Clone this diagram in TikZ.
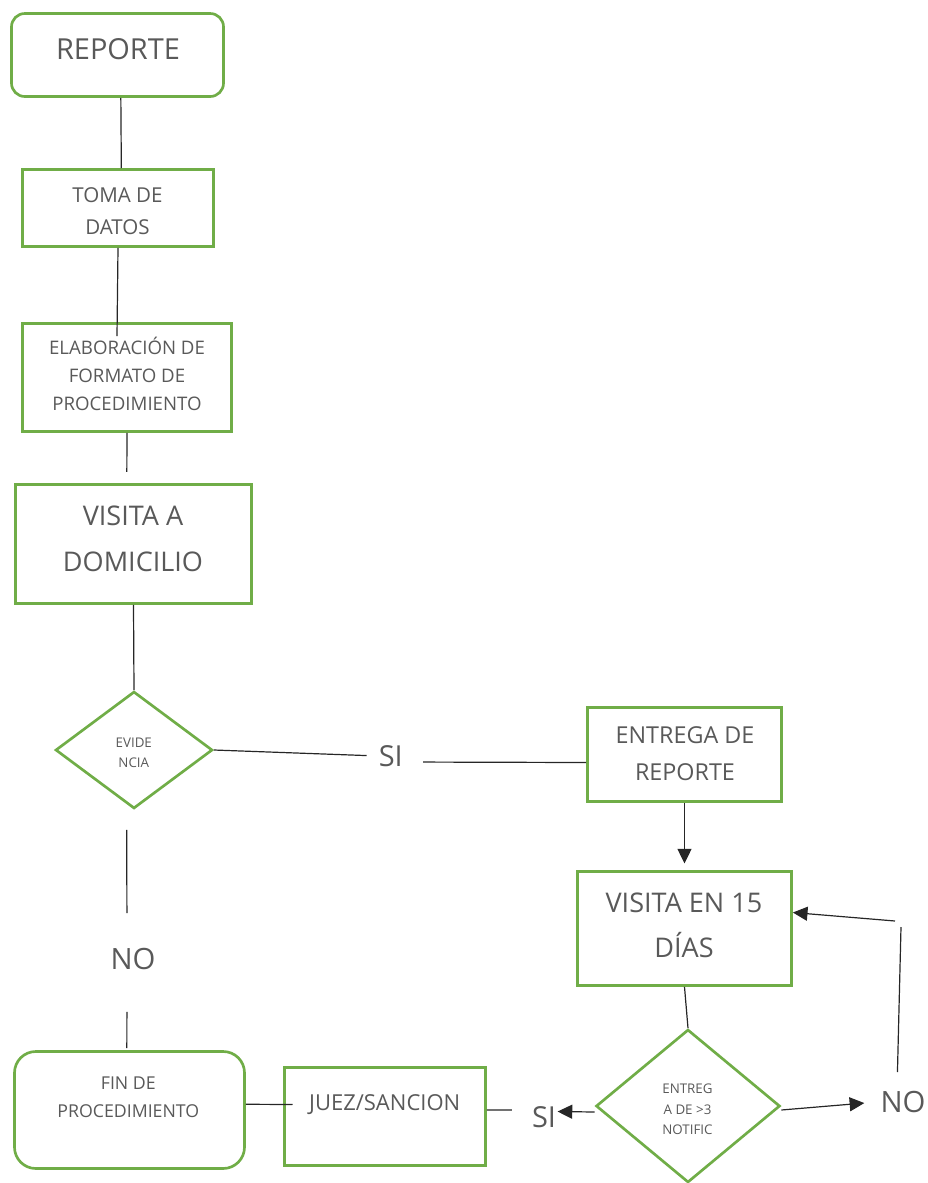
\documentclass[tikz,border=0pt]{standalone}
\usepackage{fontspec}
\setmainfont{Open Sans}
\usetikzlibrary{shapes.geometric,arrows.meta}

\definecolor{boxgreen}{HTML}{70AD47}
\definecolor{txtgray}{HTML}{595959}

\tikzset{
  box/.style={draw=boxgreen, line width=2pt, inner sep=0pt},
  roundbox/.style={box, rounded corners=10pt},
  decision/.style={box, diamond},
  lbl/.style={text=txtgray, align=center, inner sep=0pt},
  link/.style={line width=0.9pt, black!85},
  tip/.style={-{Triangle[length=11pt,width=10.5pt]}}
}

\begin{document}
\begin{tikzpicture}[x=0.75pt,y=-0.75pt]
\useasboundingbox (0,0) rectangle (928,1183);

% cajas
\node[roundbox, minimum width=159pt, minimum height=62.25pt] (reporte) at (117.5,55) {};
\node[box, minimum width=143.25pt, minimum height=57.75pt] (toma) at (118,208) {};
\node[box, minimum width=156.75pt, minimum height=81pt] (elab) at (127,377.5) {};
\node[box, minimum width=177pt, minimum height=89.25pt] (visita) at (133.5,544) {};
\node[decision, minimum width=117.75pt, minimum height=87.75pt] (evid) at (134,750) {};
\node[box, minimum width=145.5pt, minimum height=70.5pt] (entrega) at (684.5,754.5) {};
\node[box, minimum width=160.5pt, minimum height=85.5pt] (visita15) at (684.5,928.5) {};
\node[decision, minimum width=138pt, minimum height=114.75pt] (notific) at (688,1106) {};
\node[roundbox, rounded corners=16pt, minimum width=172.5pt, minimum height=87.75pt] (fin) at (129.5,1110) {};
\node[box, minimum width=150.75pt, minimum height=73.5pt] (juez) at (385,1116.5) {};

% textos
\node[lbl, font=\fontsize{21.7}{26}\selectfont] (t-reporte) at (118,49.5) {REPORTE};
\node[lbl, font=\fontsize{15.4}{24.4}\selectfont] (t-toma) at (117.5,211.2) {TOMA DE\\DATOS};
\node[lbl, font=\fontsize{14}{21}\selectfont] (t-elab) at (127,374) {ELABORACIÓN DE\\FORMATO DE\\PROCEDIMIENTO};
\node[lbl, font=\fontsize{20.3}{34.5}\selectfont] (t-visita) at (133,539.3) {VISITA A\\DOMICILIO};
\node[lbl, font=\fontsize{10}{15}\selectfont] (t-evid) at (133.8,752.5) {EVIDE\\NCIA};
\node[lbl, font=\fontsize{17.5}{27.75}\selectfont] (t-entrega) at (685,753.5) {ENTREGA DE\\REPORTE};
\node[lbl, font=\fontsize{20.3}{33.75}\selectfont] (t-visita15) at (684,925.5) {VISITA EN 15\\DÍAS};
\node[lbl, font=\fontsize{10}{15.2}\selectfont] (t-notific) at (687.5,1109.3) {ENTREG\\A DE >3\\NOTIFIC};
\node[lbl, font=\fontsize{13.3}{21.4}\selectfont] (t-fin) at (128.3,1097.3) {FIN DE\\PROCEDIMIENTO};
\node[lbl, font=\fontsize{16.5}{20}\selectfont, anchor=base] (t-juez) at (384.7,1110) {JUEZ/SANCION};

\node[lbl, font=\fontsize{21.7}{26}\selectfont] (si1) at (390.8,756) {SI};
\node[lbl, font=\fontsize{21.7}{26}\selectfont] (si2) at (544,1117.5) {SI};
\node[lbl, font=\fontsize{22}{26}\selectfont] (no1) at (133,958.8) {NO};
\node[lbl, font=\fontsize{22}{26}\selectfont] (no2) at (903,1101.7) {NO};

\coordinate (loopa) at (901,927);
\coordinate (loopb) at (895,921);

% conectores
\draw[link] ([xshift=2.5pt]reporte.south) -- ([xshift=2.5pt]toma.north);
\draw[link] (toma.south) -- ([xshift=-7.5pt,yshift=-10.5pt]elab.north);
\draw[link] (elab.south) -- ([xshift=-5pt,yshift=8.5pt]visita.north);
\draw[link] (visita.south) -- (evid.north);

\draw[link, shorten >=9pt] (evid.east) -- (si1.west);
\draw[link, shorten <=15pt] ([yshift=-4.5pt]si1.east) -- ([yshift=-6pt]entrega.west);
\draw[link, tip, shorten >=5pt] (entrega.south) -- (visita15.north);
\draw[link] (visita15.south) -- (notific.north);

\draw[link, tip, shorten >=1pt] ([yshift=-4.5pt]notific.west) -- ([yshift=4.5pt]si2.east);
\draw[link, shorten <=15pt] ([yshift=5.6pt]si2.west) -- ([yshift=4.9pt]juez.east);
\draw[link] ([yshift=4.3pt]fin.east) -- ([xshift=7pt,yshift=9pt]juez.west);

\draw[link, shorten <=15pt, shorten >=26pt] ([xshift=-5.5pt]evid.south) -- ([xshift=-4.5pt]no1.north);
\draw[link, shorten <=31.5pt, shorten >=1.5pt] ([xshift=-4.5pt]no1.south) -- ([xshift=-2pt]fin.north);

\draw[link, tip, shorten >=12pt] ([yshift=-3pt]notific.east) -- (no2.west);
\draw[link, shorten <=14pt] ([xshift=-4.5pt]no2.north) -- (loopa);
\draw[link, tip] (loopb) -- ([yshift=12pt]visita15.east);
\end{tikzpicture}
\end{document}
